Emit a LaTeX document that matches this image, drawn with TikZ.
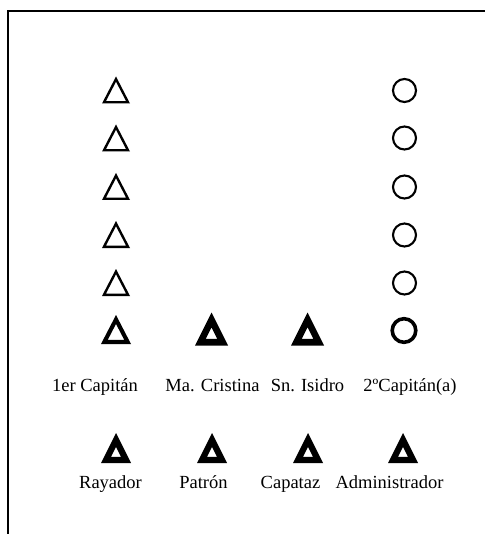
\documentclass[tikz,border=0pt]{standalone}
\usepackage{fontspec}
\setmainfont{Liberation Serif}
\newcommand\DTri[5]{%
  \pgfmathsetmacro\dtSa{sin(atan((#3/2)/#4))}%
  \pgfmathsetmacro\dtIh{#4-#5-#5/\dtSa}%
  \pgfmathsetmacro\dtIw{#3*\dtIh/#4}%
  \fill[even odd rule]
    (#1,#2-#4/2) -- (#1-#3/2,#2+#4/2) -- (#1+#3/2,#2+#4/2) -- cycle
    (#1,#2-#4/2+#5/\dtSa) -- (#1-\dtIw/2,#2+#4/2-#5) -- (#1+\dtIw/2,#2+#4/2-#5) -- cycle;%
}
\tikzset{
  lbl/.style={anchor=base, inner sep=0pt, font=\fontsize{18.5}{22}\selectfont},
  thinring/.style={draw, line width=2.1pt},
  boldring/.style={draw, line width=3.6pt},
  frameline/.style={line width=2pt},
}
\begin{document}
\begin{tikzpicture}[x=1pt,y=-1pt]
\useasboundingbox (0,0) rectangle (485,534);
% frame
\coordinate (fb) at (7.5,534);
\coordinate (fc) at (7.5,11);
\coordinate (fr) at (485,11);
\draw[frameline] (fb) -- (fc) -- (fr);
% thin triangles column 1
\foreach \yy in {90,138,186.5,234.5,282.5}{\DTri{116}{\yy}{28}{27}{2.4}}
% thin circles column 4
\foreach \yy in {90.5,138,187,235,283}{\draw[thinring] (404.5,\yy) circle (11.5);}
% row 6
\DTri{116}{329.5}{30}{29}{4.1}
\DTri{211.5}{329}{33}{33}{6.6}
\DTri{307.5}{329}{33}{33}{6.6}
\draw[boldring] (404,330.5) circle (11.8);
% labels row 1
\node[lbl] (l1) at (95,391) {1er Capitán};
\node[lbl] (l2) at (212.5,391) {Ma. Cristina};
\node[lbl] (l3) at (307.5,391) {Sn. Isidro};
\node[lbl] (l4) at (410,391) {2ºCapitán(a)};
% bottom triangles
\DTri{116}{448}{30}{30}{6.2}
\DTri{212}{448}{30}{30}{6.2}
\DTri{308}{448}{30}{30}{6.2}
\DTri{403}{448}{30}{30}{6.2}
% labels row 2
\node[lbl] (b1) at (110.5,488) {Rayador};
\node[lbl] (b2) at (203.5,488) {Patrón};
\node[lbl] (b3) at (290.5,488) {Capataz};
\node[lbl] (b4) at (389.5,488) {Administrador};
\end{tikzpicture}
\end{document}
